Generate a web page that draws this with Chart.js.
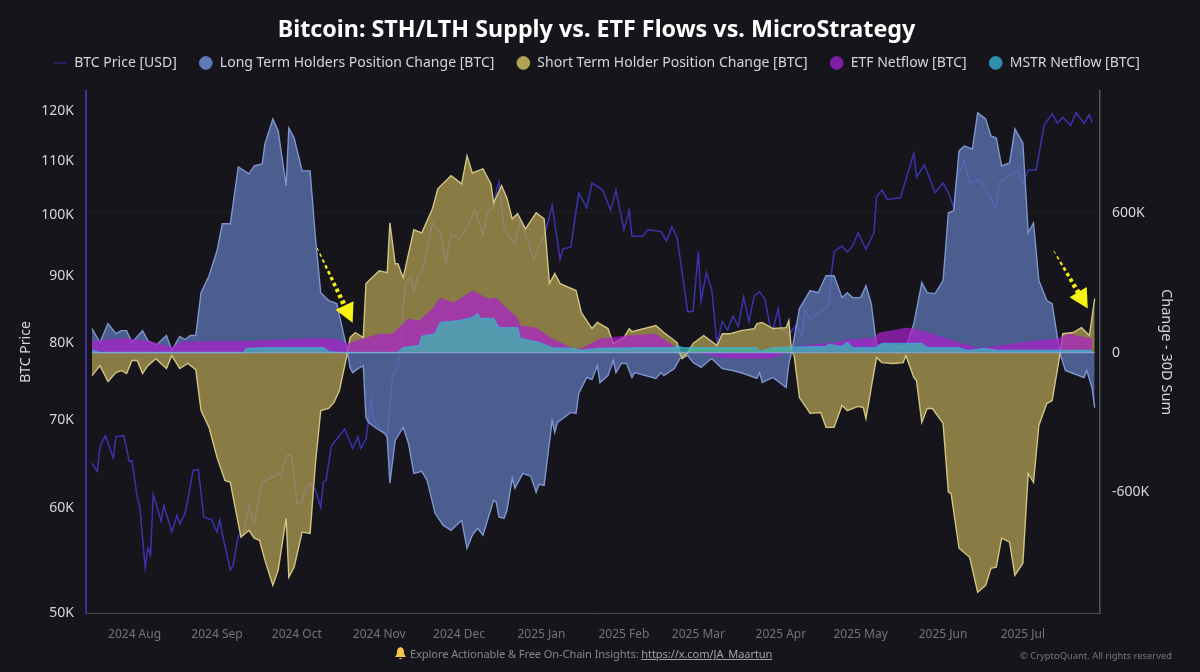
<!DOCTYPE html>
<html>
<head>
<meta charset="utf-8">
<title>Bitcoin: STH/LTH Supply vs. ETF Flows vs. MicroStrategy</title>
<script src="https://cdn.jsdelivr.net/npm/chart.js@4/dist/chart.umd.min.js"></script>
<style>
  html, body { margin: 0; padding: 0; background: #15151b; }
  #wrap { position: relative; width: 1200px; height: 672px; overflow: hidden; font-family: "Noto Sans", sans-serif; }
  #footer { position: absolute; left: 395px; top: 646px; font-size: 11.1px; letter-spacing: -0.1px; color: #85858d; white-space: nowrap; }
  #footer svg { vertical-align: -2px; margin-right: 4px; }
  #footer u { color: #a0a0a8; }
  #copy { position: absolute; left: 1020px; top: 649px; font-size: 9.4px; color: #77777f; white-space: nowrap; }
</style>
</head>
<body>
<div id="wrap">
  <canvas id="chart" width="1200" height="672"></canvas>
  <div id="footer"><svg width="11" height="13" viewBox="0 0 11 13"><path d="M5.5 0C3 .5 2 2.5 2 5c0 2.500-1 3.500-2 5h11c-1-1.500-2-2.500-2-5 0-2.500-1-4.500-3.500-5zM4 11h3c0 1.300-3 1.300-3 0z" fill="#f2c84b"/></svg>Explore Actionable &amp; Free On-Chain Insights: <u>https://x.com/JA_Maartun</u></div>
  <div id="copy">© CryptoQuant. All rights reserved</div>
</div>
<script>
// x values are days since 2024-07-16, price in thousand USD, flows in thousand BTC
var monthDays = [16, 47, 77, 108, 138, 169, 200, 228, 259, 289, 320, 350];
var monthLabels = ['2024 Aug', '2024 Sep', '2024 Oct', '2024 Nov', '2024 Dec', '2025 Jan', '2025 Feb', '2025 Mar', '2025 Apr', '2025 May', '2025 Jun', '2025 Jul'];
var priceTicks = [50, 60, 70, 80, 90, 100, 110, 120];
var changeTicks = [-600, 0, 600];

var priceDays = [0,2,3,5,8,9,12,14,15,17,18,20,21,22,23,26,27,30,32,33,35,36,38,40,42,45,47,48,49,52,53,55,57,59,61,64,68,70,71,73,75,77,79,80,82,84,86,87,88,90,95,97,98,100,101,103,104,105,106,108,111,113,115,116,117,118,120,121,123,124,126,128,131,133,135,138,141,144,147,149,151,152,153,155,159,161,164,166,170,171,173,176,177,180,183,186,188,192,195,197,200,202,203,207,209,214,216,218,220,224,226,228,229,231,233,235,237,239,241,243,245,247,249,251,253,255,256,258,259,262,265,267,268,270,274,277,278,279,282,284,286,288,291,294,295,297,299,304,306,309,310,313,317,320,322,324,325,328,330,334,340,341,348,350,352,355,358,361,363,365,368,370,373,375,376];
var priceValues = [64.9,64,66.8,68.1,65.5,68,68.1,65.1,65.2,61.2,60.1,54.1,56,55.3,61.5,58.7,60.3,57.6,59.3,58.4,59.5,60.9,64.1,64.2,59.1,58.8,57.6,58.8,57.4,53.9,54.3,57.2,57.4,60.3,58.4,62.8,63.4,63.8,63.4,65.8,65.8,60.6,60.6,62,62.7,62,60.1,62.8,63,66.9,68.9,67.4,66.6,68,66.6,67.7,70,72.6,70,69.1,68.1,75.6,76.8,79,85.4,89,89.9,87.5,90.6,90.5,94.3,98.7,97,92.1,96.7,95.9,98,100.9,96.7,100.9,101.3,104.2,106,97.5,95.1,99.2,95.4,92.6,96.4,98,101.8,92.6,94.3,94.6,104,101.3,105.8,104.5,100.9,104.5,97.5,100.9,96.4,96.4,97.5,97.2,95.6,98,96.2,84.5,84.6,93.9,86.1,90.5,87.9,80,83.1,81.9,83.9,82.4,86.7,83.1,86.9,87.5,86.4,82.4,81.9,85,82.2,81.2,82.7,80.9,85,83.4,84.6,85.4,90.2,93.8,94.8,93.8,94.8,97,94.3,97,103.3,104.5,102.8,103.1,106.4,111.4,106.9,109.2,104,105.8,104,101.3,106.4,110,105.8,106.4,101.3,105.8,108.2,105.8,108.2,108.2,117,119.4,117.4,118.6,117,119.6,117.4,119.2,117.6];

var lthDays = [0,3,6,9,11,13,15,19,21,24,28,30,33,35,37,39,41,44,47,49,52,55,59,61,64,65,68,70,73,74,76,79,82,84,86,89,92,96,97,98,100,102,103,104,107,110,111,112,114,117,119,121,124,126,129,132,135,139,141,143,145,147,151,152,153,155,156,158,159,162,165,167,168,170,173,174,175,180,182,183,186,188,190,191,194,196,197,199,201,203,204,212,214,215,219,221,224,226,229,232,233,237,241,245,250,251,252,256,261,262,263,266,270,273,276,279,282,284,286,289,291,293,295,298,302,306,309,312,314,317,320,322,324,326,328,331,333,336,338,340,342,345,347,350,352,354,356,359,361,363,364,366,369,373,374,376,377];
var lthValues = [103,43,124,81,94,94,43,94,51,30,73,9,69,56,73,73,257,330,437,553,553,797,767,801,810,896,1003,951,716,964,921,780,780,493,257,223,210,9,-64,-86,-69,-56,-279,-300,-326,-347,-364,-561,-377,-321,-390,-519,-510,-549,-690,-741,-763,-720,-840,-784,-754,-784,-634,-643,-707,-711,-677,-540,-583,-519,-531,-600,-566,-570,-291,-343,-300,-257,-261,-176,-107,-116,-56,-129,-99,-34,-86,-47,-47,-107,-86,-111,-86,-99,-69,-26,-13,-43,-64,-34,-26,-69,-77,-90,-111,-86,-129,-107,-150,-47,0,189,266,257,330,330,236,257,236,236,287,210,30,30,30,21,124,300,257,253,309,600,609,866,887,874,1029,1003,930,921,801,814,960,900,514,557,309,223,210,64,-4,-77,-90,-107,-77,-150,-236];

var sthDays = [0,3,6,9,11,13,15,17,19,21,24,28,30,33,36,39,41,44,47,50,52,56,59,61,63,65,68,70,73,74,76,79,82,84,86,89,91,93,96,97,99,102,103,108,111,112,114,115,117,121,124,128,130,135,139,141,143,147,150,151,154,156,158,160,163,167,170,172,174,176,182,184,188,190,194,196,200,202,203,212,215,220,221,222,224,226,230,235,237,240,244,249,250,252,256,261,262,263,264,266,270,274,276,279,282,284,288,290,291,293,295,297,301,305,306,309,310,312,314,316,320,322,323,326,330,333,336,338,340,342,345,347,350,352,354,356,359,361,364,365,369,372,375,377];
var sthValues = [-99,-56,-124,-86,-77,-90,-34,-34,-90,-56,-26,-69,-13,-69,-47,-73,-249,-321,-450,-549,-557,-793,-763,-797,-806,-891,-999,-934,-711,-964,-921,-771,-776,-476,-249,-240,-214,-163,-4,64,86,64,296,351,343,557,381,381,321,527,514,617,703,759,724,844,771,789,724,643,716,664,574,596,531,600,574,296,339,296,266,171,103,129,103,39,64,103,90,116,86,43,-4,-26,0,39,73,30,81,81,94,103,124,129,103,107,137,9,-13,-193,-261,-257,-321,-321,-227,-249,-231,-236,-283,-150,-21,-43,-47,-43,-13,-107,-120,-300,-240,-240,-304,-600,-604,-840,-879,-1029,-999,-926,-921,-797,-814,-956,-904,-519,-557,-313,-219,-206,-4,81,86,107,73,231];

var etfDays = [0,6,12,22,30,34,57,85,92,96,102,108,113,119,123,128,131,136,143,149,152,155,160,161,167,173,181,184,191,201,212,216,220,221,225,229,232,238,255,259,261,264,279,284,294,296,306,309,316,326,333,341,354,363,367,376];
var etfValues = [50,56,62,50,24,47,50,62,58,39,60,81,81,146,137,189,236,214,266,231,236,201,150,116,107,60,17,17,60,73,81,51,21,9,0,-4,-9,-26,-26,-13,0,26,43,56,64,86,107,103,81,43,21,30,51,60,81,60];

var mstrDays = [0,3,57,58,64,87,89,94,115,117,123,124,129,131,138,143,145,146,151,153,160,161,168,173,181,184,190,206,219,220,222,235,250,251,256,276,277,282,284,286,295,297,312,314,326,329,333,335,341,376];
var mstrValues = [9,0,0,17,21,21,4,0,0,21,30,69,81,129,137,150,167,146,146,107,107,60,43,21,17,9,17,21,21,30,21,21,21,4,21,26,34,26,43,21,21,39,39,21,21,9,13,17,9,9];

// yellow arrows, start and tip in chart values
var arrowStartDays = [84.6, 361.6];
var arrowStartValues = [450, 437];
var arrowTipDays = [98, 374.4];
var arrowTipValues = [128, 189];

var seriesNames = ['BTC Price [USD]', 'Long Term Holders Position Change [BTC]', 'Short Term Holder Position Change [BTC]', 'ETF Netflow [BTC]', 'MSTR Netflow [BTC]'];
var legendColors = ['#2c2488', '#6079b8', '#b5a355', '#7d1fa5', '#2f8fb0'];

function points(days, values) {
    return days.map(function(d, i) {
        return { x: d, y: values[i] };
    });
}

// keeps some room under the legend without moving its text
var legendGapPlugin = {
    id: 'legendGap',
    beforeLayout: function(chart) {
        var legend = chart.legend;
        if (legend && !legend.gapAdded) {
            var fit = legend.fit;
            legend.fit = function() {
                fit.call(this);
                this.height += 11;
            };
            legend.gapAdded = true;
        }
    }
};

var overlayPlugin = {
    id: 'overlay',
    afterDatasetsDraw: function(chart) {
        var ctx = chart.ctx;
        var sx = chart.scales.x;
        var sy = chart.scales.yChange;
        ctx.save();

        // pale line along zero, on top of the areas
        ctx.strokeStyle = 'rgba(135,175,225,0.8)';
        ctx.lineWidth = 1.2;
        ctx.beginPath();
        ctx.moveTo(sx.getPixelForValue(0), sy.getPixelForValue(0));
        ctx.lineTo(sx.getPixelForValue(377), sy.getPixelForValue(0));
        ctx.stroke();

        ctx.fillStyle = '#f6f212';
        ctx.strokeStyle = '#f6f212';
        arrowStartDays.forEach(function(d, i) {
            var x0 = sx.getPixelForValue(d);
            var y0 = sy.getPixelForValue(arrowStartValues[i]);
            var x1 = sx.getPixelForValue(arrowTipDays[i]);
            var y1 = sy.getPixelForValue(arrowTipValues[i]);
            var len = Math.hypot(x1 - x0, y1 - y0);
            var ux = (x1 - x0) / len;
            var uy = (y1 - y0) / len;
            var shaft = len - 17;
            // dashes get fatter towards the head
            for (var s = 0; s < shaft; s += 6.5) {
                ctx.lineWidth = 1 + 4.5 * s / shaft;
                ctx.beginPath();
                ctx.moveTo(x0 + ux * s, y0 + uy * s);
                ctx.lineTo(x0 + ux * Math.min(s + 3.5, shaft), y0 + uy * Math.min(s + 3.5, shaft));
                ctx.stroke();
            }
            var bx = x1 - ux * 19;
            var by = y1 - uy * 19;
            ctx.beginPath();
            ctx.moveTo(x1, y1);
            ctx.lineTo(bx - uy * 10, by + ux * 10);
            ctx.lineTo(bx + uy * 10, by - ux * 10);
            ctx.closePath();
            ctx.fill();
        });
        ctx.restore();
    }
};

var ctx = document.getElementById('chart').getContext('2d');
var myChart = new Chart(ctx, {
    type: 'line',
    data: {
        datasets: [
            { label: seriesNames[0], data: points(priceDays, priceValues), yAxisID: 'yPrice', borderColor: '#3d32ad', borderWidth: 1.5, order: 5, fill: false },
            { label: seriesNames[1], data: points(lthDays, lthValues), yAxisID: 'yChange', borderColor: '#7f95cf', backgroundColor: 'rgba(95,120,184,0.74)', borderWidth: 1.4, order: 4, fill: 'origin' },
            { label: seriesNames[2], data: points(sthDays, sthValues), yAxisID: 'yChange', borderColor: '#d2c584', backgroundColor: 'rgba(181,163,85,0.72)', borderWidth: 1.4, order: 3, fill: 'origin' },
            { label: seriesNames[3], data: points(etfDays, etfValues), yAxisID: 'yChange', borderColor: 'rgba(170,35,200,0)', backgroundColor: 'rgba(172,32,205,0.7)', borderWidth: 0, order: 2, fill: 'origin' },
            { label: seriesNames[4], data: points(mstrDays, mstrValues), yAxisID: 'yChange', borderColor: 'rgba(60,175,220,0.7)', backgroundColor: 'rgba(55,190,180,0.72)', borderWidth: 1.5, order: 1, fill: 'origin' }
        ]
    },
    options: {
        responsive: false,
        animation: false,
        layout: { padding: { right: 7 } },
        elements: { point: { radius: 0 }, line: { tension: 0 } },
        plugins: {
            title: {
                display: true,
                text: 'Bitcoin: STH/LTH Supply vs. ETF Flows vs. MicroStrategy',
                color: '#ffffff',
                font: { family: '"Noto Sans"', size: 23.3, weight: 'bold' },
                padding: { top: 16, bottom: -10 }
            },
            legend: {
                display: true,
                labels: {
                    color: '#d6d6da',
                    font: { family: '"Noto Sans"', size: 14 },
                    usePointStyle: true,
                    boxHeight: 9,
                    padding: 22,
                    generateLabels: function() {
                        return seriesNames.map(function(name, i) {
                            return {
                                text: name,
                                fontColor: '#d6d6da',
                                fillStyle: legendColors[i],
                                strokeStyle: legendColors[i],
                                lineWidth: i === 0 ? 1.5 : 1,
                                pointStyle: i === 0 ? 'line' : 'circle',
                                datasetIndex: i
                            };
                        });
                    }
                }
            },
            tooltip: { enabled: false }
        },
        scales: {
            x: {
                type: 'linear',
                min: -2.26,
                max: 379,
                afterFit: function(scale) { scale.height = 59; },
                afterBuildTicks: function(scale) {
                    scale.ticks = monthDays.map(function(d) { return { value: d }; });
                },
                grid: { display: false },
                border: { color: '#4a4a52', width: 1 },
                ticks: {
                    color: '#73737b',
                    font: { family: '"Noto Sans"', size: 12 },
                    maxRotation: 0,
                    autoSkip: false,
                    padding: 6,
                    callback: function(value) { return monthLabels[monthDays.indexOf(value)]; }
                }
            },
            yPrice: {
                type: 'logarithmic',
                position: 'left',
                min: 50,
                max: 124.2,
                afterFit: function(scale) { scale.width = 86; },
                afterBuildTicks: function(scale) {
                    scale.ticks = priceTicks.map(function(v) { return { value: v }; });
                },
                title: { display: true, text: 'BTC Price', color: '#d6d6da', font: { family: '"Noto Sans"', size: 14 }, padding: { top: 18, bottom: 0 } },
                grid: { display: false },
                border: { color: '#3d2f9c', width: 2 },
                ticks: {
                    color: '#d6d6da',
                    font: { family: '"Noto Sans"', size: 14 },
                    autoSkip: false,
                    padding: 4,
                    callback: function(value) { return value + 'K'; }
                }
            },
            yChange: {
                type: 'linear',
                position: 'right',
                min: -1118,
                max: 1123,
                afterFit: function(scale) { scale.width = 93; },
                afterBuildTicks: function(scale) {
                    scale.ticks = changeTicks.map(function(v) { return { value: v }; });
                },
                title: { display: true, text: 'Change - 30D Sum', color: '#d6d6da', font: { family: '"Noto Sans"', size: 14.5 }, padding: { top: 18, bottom: 0 } },
                grid: {
                    color: function(c) { return c.tick && c.tick.value === 600 ? 'rgba(255,255,255,0.045)' : 'rgba(255,255,255,0)'; },
                    drawTicks: false
                },
                border: { color: '#55555d', width: 1.5 },
                ticks: {
                    color: '#d6d6da',
                    font: { family: '"Noto Sans"', size: 14 },
                    autoSkip: false,
                    padding: 12,
                    callback: function(value) { return value === 0 ? '0' : value + 'K'; }
                }
            }
        }
    },
    plugins: [legendGapPlugin, overlayPlugin]
});
</script>
</body>
</html>
